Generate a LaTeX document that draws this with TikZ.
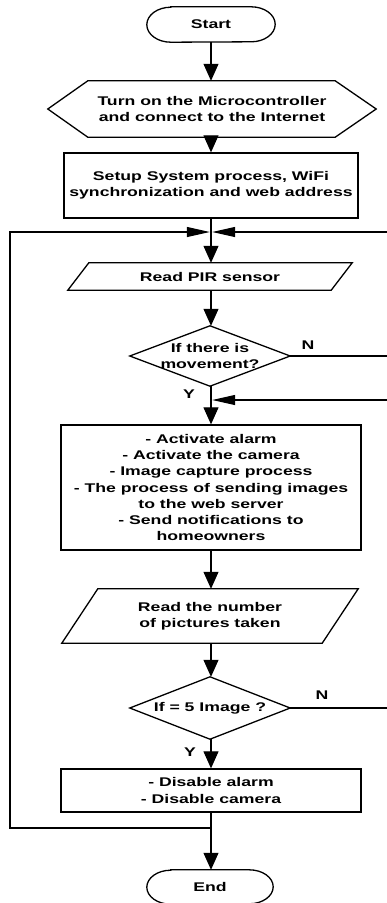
\documentclass[tikz,border=0pt]{standalone}
\usepackage{fontspec}
\setmainfont{Liberation Sans}[FakeStretch=1.4]
\usetikzlibrary{arrows.meta}
\begin{document}
\begin{tikzpicture}[x=1pt,y=-1pt,
  every node/.style={font=\bfseries\fontsize{12.6}{16.2}\selectfont, inner sep=0pt, align=center},
  outline/.style={draw=black, line width=1.3pt},
  conn/.style={draw=black, line width=1.1pt},
  varr/.style={conn, -{Triangle[length=17pt,width=15pt]}},
  harr/.style={conn, -{Triangle[length=23pt,width=10pt]}, shorten >=1.2pt},
  lbl/.style={font=\bfseries\fontsize{12.6}{14}\selectfont}
]
\useasboundingbox[fill=white] (0,0) rectangle (387,903);

% nodes
\node[minimum width=128pt, minimum height=35pt] (start) at (211,24.5) {Start};
\node[minimum width=328pt, minimum height=56pt] (hex) at (212,109) {Turn on the Microcontroller\\and connect to the Internet};
\node[outline, minimum width=294pt, minimum height=65pt] (setup) at (211,185.5) {Setup System process, WiFi\\synchronization and web address};
\node[minimum width=284pt, minimum height=27pt] (pir) at (210,276.5) {Read PIR sensor};
\node[minimum width=160pt, minimum height=60pt] (d1) at (210,356) {If there is\\movement?};
\node[outline, minimum width=300pt, minimum height=125pt] (big) at (211,487.5) {- Activate alarm\\- Activate the camera\\- Image capture process\\- The process of sending images\\to the web server\\- Send notifications to\\homeowners};
\node[minimum width=296pt, minimum height=54pt] (p2) at (210,616) {Read the number\\of pictures taken};
\node[minimum width=160pt, minimum height=62pt] (d2) at (210,708) {If = 5 Image ?};
\node[outline, minimum width=300pt, minimum height=43pt] (dis) at (211,790.5) {- Disable alarm\\- Disable camera};
\node[minimum width=126pt, minimum height=34pt] (end) at (210,887) {End};

% outlines
\draw[outline] ([xshift=24pt]start.north west) -- ([xshift=-24pt]start.north east)
  arc[start angle=90,end angle=-90,x radius=24pt,y radius=17.5pt]
  -- ([xshift=24pt]start.south west)
  arc[start angle=270,end angle=90,x radius=24pt,y radius=17.5pt] -- cycle;
\draw[outline] ([xshift=24pt]end.north west) -- ([xshift=-24pt]end.north east)
  arc[start angle=90,end angle=-90,x radius=24pt,y radius=17pt]
  -- ([xshift=24pt]end.south west)
  arc[start angle=270,end angle=90,x radius=24pt,y radius=17pt] -- cycle;
\draw[outline] (hex.west) -- ([xshift=40pt]hex.north west) -- ([xshift=-41pt]hex.north east)
  -- (hex.east) -- ([xshift=-41pt]hex.south east) -- ([xshift=40pt]hex.south west) -- cycle;
\draw[outline] ([xshift=21pt]pir.north west) -- (pir.north east)
  -- ([xshift=-21pt]pir.south east) -- (pir.south west) -- cycle;
\draw[outline] ([xshift=36pt]p2.north west) -- (p2.north east)
  -- ([xshift=-36pt]p2.south east) -- (p2.south west) -- cycle;
\draw[outline] (d1.north) -- (d1.east) -- (d1.south) -- (d1.west) -- cycle;
\draw[outline] (d2.north) -- (d2.east) -- (d2.south) -- (d2.west) -- cycle;

% junction coordinates
\coordinate (j1) at (211,232);
\coordinate (j2) at (211,400);
\coordinate (j3) at (211,828);
\coordinate (lb) at (10,828);
\coordinate (lt) at (10,232);
\coordinate (r1) at (387,232);
\coordinate (r2) at (387,400);
\coordinate (n1) at (387,356);
\coordinate (n2) at (387,708);

% vertical connectors
\draw[varr] (start.south -| j1) -- (hex.north -| j1);
\draw[varr] (hex.south -| j1) -- (setup.north -| j1);
\draw[varr] (setup.south -| j1) -- (pir.north -| j1);
\draw[varr] (pir.south -| j1) -- (d1.north -| j1);
\draw[varr] (d1.south -| j1) -- (big.north -| j1);
\draw[varr] (big.south -| j1) -- (p2.north -| j1);
\draw[varr] (p2.south -| j1) -- (d2.north -| j1);
\draw[varr] (d2.south -| j1) -- (dis.north -| j1);
\draw[varr] (dis.south -| j1) -- (end.north -| j1);

% loops and returns
\draw[harr] (j3) -- (lb) -- (lt) -- (j1);
\draw[harr] (r1) -- (j1);
\draw[harr] (r2) -- (j2);
\draw[conn] (d1.east) -- (n1);
\draw[conn] (d2.east) -- (n2);

% labels
\node[lbl] (nlab1) at (308,345) {N};
\node[lbl] (ylab1) at (189,394) {Y};
\node[lbl] (nlab2) at (322,695) {N};
\node[lbl] (ylab2) at (190,752) {Y};
\end{tikzpicture}
\end{document}
